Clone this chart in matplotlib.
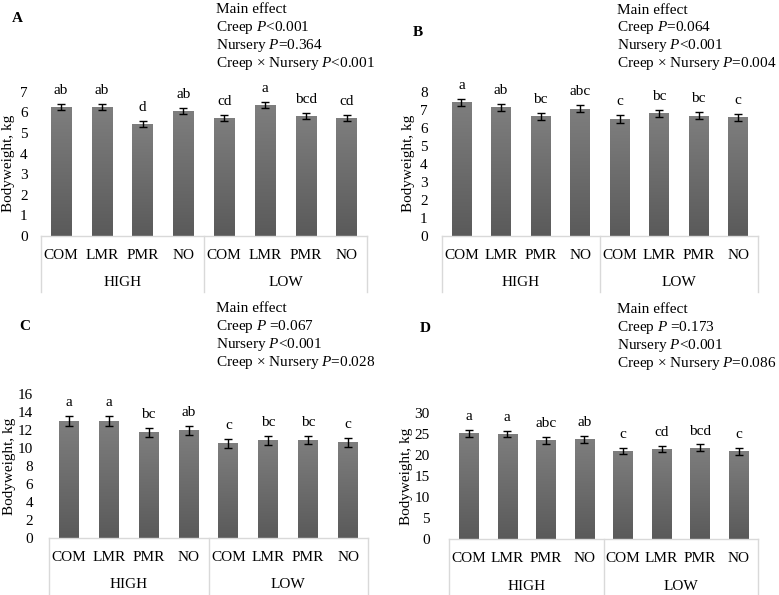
import matplotlib
matplotlib.use("Agg")
import matplotlib.pyplot as plt
import numpy as np
from matplotlib.colors import LinearSegmentedColormap
from matplotlib.lines import Line2D

plt.rcParams['font.family'] = ['Liberation Serif', 'DejaVu Serif']
plt.rcParams['mathtext.fontset'] = 'custom'
plt.rcParams['mathtext.rm'] = 'Liberation Serif'
plt.rcParams['mathtext.it'] = 'Liberation Serif:italic'

creep = ["COM", "LMR", "PMR", "NO", "COM", "LMR", "PMR", "NO"]
nursery = ["HIGH", "LOW"]

vals_A = [6.24, 6.25, 5.42, 6.05, 5.74, 6.34, 5.82, 5.74]
err_A = [0.15, 0.15, 0.15, 0.15, 0.15, 0.15, 0.15, 0.15]
let_A = ["ab", "ab", "d", "ab", "cd", "a", "bcd", "cd"]
p_A = ["Main effect", "Creep $P$<0.001", "Nursery $P$=0.364", "Creep × Nursery $P$<0.001"]

vals_B = [7.41, 7.13, 6.64, 7.05, 6.49, 6.80, 6.68, 6.57]
err_B = [0.2, 0.2, 0.2, 0.2, 0.2, 0.2, 0.2, 0.2]
let_B = ["a", "ab", "bc", "abc", "c", "bc", "bc", "c"]
p_B = ["Main effect", "Creep $P$=0.064", "Nursery $P$<0.001", "Creep × Nursery $P$=0.004"]

vals_C = [13.02, 13.02, 11.78, 11.98, 10.56, 10.87, 10.90, 10.63]
err_C = [0.55, 0.55, 0.5, 0.5, 0.5, 0.5, 0.5, 0.5]
let_C = ["a", "a", "bc", "ab", "c", "bc", "bc", "c"]
p_C = ["Main effect", "Creep $P$ =0.067", "Nursery $P$<0.001", "Creep × Nursery $P$=0.028"]

vals_D = [25.24, 25.07, 23.57, 23.80, 21.05, 21.47, 21.78, 20.93]
err_D = [0.8, 0.8, 0.8, 0.8, 0.8, 0.8, 0.8, 0.8]
let_D = ["a", "a", "abc", "ab", "c", "cd", "bcd", "c"]
p_D = ["Main effect", "Creep $P$ =0.173", "Nursery $P$<0.001", "Creep × Nursery $P$=0.086"]

W, H = 779, 595
fig = plt.figure(figsize=(W / 100, H / 100), dpi=100)

cmap = LinearSegmentedColormap.from_list("g", ["#5a5a5a", "#7e7e7e"])
FS = 11
GRID = "#d9d9d9"


def px(x0, y_top, x1, y_bot):
    return [x0 / W, 1 - y_bot / H, (x1 - x0) / W, (y_bot - y_top) / H]


def rect_center(rect):
    return (1 - rect[1] - rect[3] / 2) * H


def panel(rect, vals, errs, lets, ptxt, ymax, ystep, letter, letter_xy, ptxt_x, ptxt_y0, ylab_x, ypad_px):
    ax = fig.add_axes(rect)
    x = np.arange(len(vals))
    bars = ax.bar(x, vals, width=0.5, color="none", edgecolor="none")
    grad = np.linspace(0, 1, 256).reshape(-1, 1)
    for b in bars:
        x0 = b.get_x()
        w = b.get_width()
        h = b.get_height()
        im = ax.imshow(grad, extent=[x0, x0 + w, 0, h], origin="lower",
                       aspect="auto", cmap=cmap, zorder=2)
        im.set_clip_path(b)
    ax.errorbar(x, vals, yerr=errs, fmt="none", ecolor="black", elinewidth=1,
                capsize=3, capthick=1, zorder=3)
    for xi, v, e, l in zip(x, vals, errs, lets):
        ax.annotate(l, (xi, v + e), xytext=(0, 5), textcoords="offset points",
                    ha="center", va="bottom", fontsize=FS, annotation_clip=False)
    ax.set_xlim(-0.5, len(vals) - 0.5)
    ax.set_ylim(0, ymax)
    ax.set_yticks(np.arange(0, ymax + 0.001, ystep))
    ax.tick_params(axis="y", length=0, labelsize=FS, pad=ypad_px * 0.72)
    ax.set_xticks(x)
    ax.set_xticklabels(creep, fontsize=FS)
    ax.tick_params(axis="x", length=0, pad=9.5)
    for s in ["left", "right", "top"]:
        ax.spines[s].set_visible(False)
    ax.spines["bottom"].set_color(GRID)
    ax.spines["bottom"].set_linewidth(1)
    hpx = rect[3] * H
    depth = 56 / hpx
    for xf in [0, 0.5, 1]:
        ax.add_line(Line2D([xf, xf], [0, -depth], transform=ax.transAxes,
                           color=GRID, lw=1, clip_on=False))
    for gi, g in enumerate(nursery):
        ax.annotate(g, (gi * 4 + 1.5, 0), xycoords=("data", "axes fraction"),
                    xytext=(0, -47 * 0.72), textcoords="offset points",
                    ha="center", va="center", fontsize=FS, annotation_clip=False)
    fig.text(ylab_x / W, 1 - rect_center(rect) / H, "Bodyweight, kg", rotation=90,
             ha="center", va="center", fontsize=FS)
    fig.text(letter_xy[0] / W, 1 - letter_xy[1] / H, letter, fontsize=FS,
             fontweight="bold", ha="center", va="center")
    for i, t in enumerate(ptxt):
        fig.text(ptxt_x / W, 1 - (ptxt_y0 + i * 18) / H, t, fontsize=FS,
                 ha="left", va="center")
    return ax


panel(px(40.7, 91.7, 367, 236), vals_A, err_A, let_A, p_A, 7, 1, "A", (17, 18), 216, 9.5, 9, 13)
panel(px(441.7, 91.7, 758, 236), vals_B, err_B, let_B, p_B, 8, 1, "B", (418, 33), 617, 10, 408, 14)
panel(px(49, 394.3, 368, 537.7), vals_C, err_C, let_C, p_C, 16, 2, "C", (25, 327), 216, 308.5, 10, 16)
panel(px(449.3, 413.3, 758, 539.3), vals_D, err_D, let_D, p_D, 30, 5, "D", (425, 328), 617, 309.5, 407, 19.5)

fig.savefig("out.png", dpi=100, facecolor="white")
